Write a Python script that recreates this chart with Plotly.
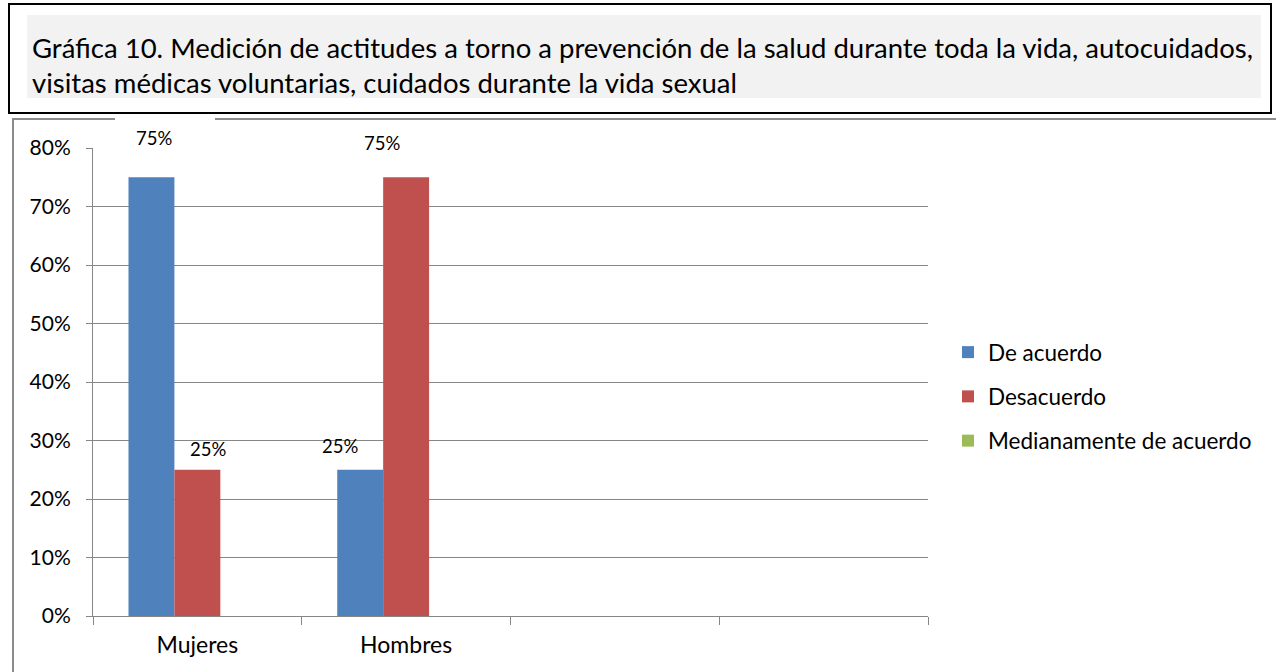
import plotly.graph_objects as go

# Datos de la gráfica
categorias = ["Mujeres", "Hombres"]
huecos = [" ", "  "]  # dos posiciones vacías en el eje
series = ["De acuerdo", "Desacuerdo", "Medianamente de acuerdo"]
de_acuerdo = [0.75, 0.25]
desacuerdo = [0.25, 0.75]
medianamente = [0.0, 0.0]
colores = ["#4F81BD", "#C0504D", "#9BBB59"]
ticks_y = [0, 0.1, 0.2, 0.3, 0.4, 0.5, 0.6, 0.7, 0.8]
titulo = [
    "Gráfica 10. Medición de actitudes a torno a prevención de la salud durante toda la vida, autocuidados,",
    "visitas médicas voluntarias, cuidados durante la vida sexual",
]

FONT = "Lato"
W, H = 1276, 672
L, R, T, B = 93, 928, 148, 616  # área de trazado en píxeles


def px(x):
    return (x - L) / (R - L)


def py(y):
    return (B - y) / (B - T)


fig = go.Figure()
valores = [de_acuerdo, desacuerdo, medianamente]
for i, (nombre, vals) in enumerate(zip(series, valores)):
    fig.add_trace(go.Bar(
        x=categorias, y=vals, name=nombre,
        marker=dict(color=colores[i], line=dict(width=0)),
        legendgroup=nombre,
    ))

# Etiquetas de valor: clave (serie, categoría) -> desplazamiento en píxeles
ancho = 0.22
desplaz = {
    (0, 0): (3, 39), (1, 0): (11, 21),
    (0, 1): (-20, 24), (1, 1): (-24, 34),
}
for (s, c), (dx, dy) in desplaz.items():
    v = valores[s][c]
    fig.add_annotation(
        x=c + (s - 1) * ancho, y=v, xref="x", yref="y",
        text=f"{v:.0%}", showarrow=False,
        xshift=dx, yshift=dy,
        font=dict(family=FONT, size=18.5, color="#000000"),
    )

shapes = [
    # recuadro del título
    dict(type="rect", xref="paper", yref="paper",
         x0=px(9), x1=px(1271), y0=py(4), y1=py(113),
         line=dict(color="#000000", width=2), fillcolor="#FFFFFF", layer="above"),
    dict(type="rect", xref="paper", yref="paper",
         x0=px(27), x1=px(1261), y0=py(15), y1=py(98),
         line=dict(width=0), fillcolor="#F2F2F2", layer="above"),
    # marco del gráfico
    dict(type="rect", xref="paper", yref="paper",
         x0=px(13), x1=px(1285), y0=py(119), y1=py(690),
         line=dict(color="#8C8C8C", width=2), fillcolor="rgba(0,0,0,0)", layer="below"),
    # fondo blanco de la etiqueta superior
    dict(type="rect", xref="paper", yref="paper",
         x0=px(115), x1=px(215), y0=py(117), y1=py(152),
         line=dict(width=0), fillcolor="#FFFFFF", layer="above"),
]
fig.update_layout(shapes=shapes)

for i, linea in enumerate(titulo):
    fig.add_annotation(
        x=px(30), y=py(47 + 35 * i), xref="paper", yref="paper",
        xanchor="left", yanchor="middle", text=linea, showarrow=False,
        font=dict(family=FONT, size=27.5, color="#000000"),
    )

fig.update_layout(
    width=W, height=H,
    margin=dict(l=L, r=W - R, t=T, b=H - B, pad=0),
    paper_bgcolor="#FFFFFF", plot_bgcolor="#FFFFFF",
    barmode="group", bargap=0.34, bargroupgap=0,
    font=dict(family=FONT, size=21, color="#000000"),
    legend=dict(
        x=px(948), y=py(331), xanchor="left", yanchor="top",
        font=dict(family=FONT, size=22.5, color="#000000"),
        tracegroupgap=12, bgcolor="rgba(0,0,0,0)",
    ),
    xaxis=dict(
        type="category", categoryorder="array",
        categoryarray=categorias + huecos, range=[-0.5, 3.5],
        tickson="boundaries", ticks="outside", ticklen=8, tickcolor="#868686",
        ticklabelstandoff=8,
        showline=True, linecolor="#868686", linewidth=1,
        showgrid=False, tickfont=dict(family=FONT, size=23),
    ),
    yaxis=dict(
        range=[0, 0.8], tickvals=ticks_y, tickformat=".0%",
        ticks="outside", ticklen=6, tickcolor="#868686",
        ticklabelstandoff=11,
        showline=True, linecolor="#868686", linewidth=1,
        showgrid=True, gridcolor="#868686", gridwidth=1,
        zeroline=False, tickfont=dict(family=FONT, size=21),
    ),
)

fig.write_html("out.html")
